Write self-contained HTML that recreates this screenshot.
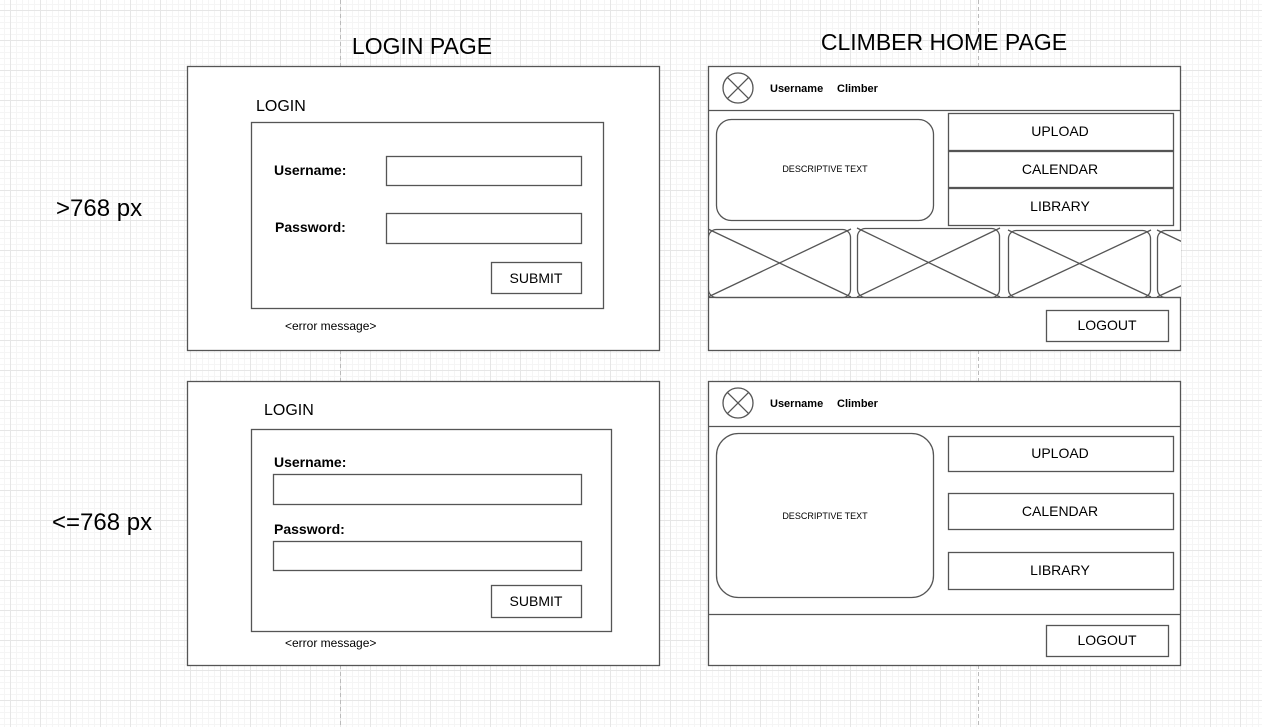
<!DOCTYPE html>
<html><head><style>
html,body{margin:0;padding:0;background:#fff;}
body{width:1262px;height:727px;overflow:hidden;
background-image:linear-gradient(#e6e6e6 1px,transparent 1px),linear-gradient(90deg,#e6e6e6 1px,transparent 1px),linear-gradient(#f5f5f5 1px,transparent 1px),linear-gradient(90deg,#f5f5f5 1px,transparent 1px);
background-size:30px 30px,30px 30px,6px 6px,6px 6px;background-position:10px 10px,10px 10px,10px 10px,10px 10px;}
svg{position:absolute;left:0;top:0;font-family:"Liberation Sans",Arial,sans-serif;}
</style></head><body>
<svg width="1262" height="727" viewBox="0 0 1262 727">
<g stroke="#bbb" stroke-dasharray="4,3" fill="none">
<line x1="340.5" y1="0" x2="340.5" y2="727"/><line x1="978.5" y1="0" x2="978.5" y2="727"/>
</g>
<g fill="#000" font-size="23">
<text x="422" y="54" text-anchor="middle">LOGIN PAGE</text>
<text x="944" y="50" text-anchor="middle">CLIMBER HOME PAGE</text>
</g>
<g fill="#000" font-size="24">
<text x="56" y="216">&gt;768 px</text>
<text x="52" y="530">&lt;=768 px</text>
</g>
<g fill="#fff" stroke="#555" stroke-width="1.3">
<rect x="187.5" y="66.5" width="472" height="284"/>
<rect x="251.5" y="122.5" width="352" height="186"/>
<rect x="386.5" y="156.5" width="195" height="29"/>
<rect x="386.5" y="213.5" width="195" height="30"/>
<rect x="491.5" y="262.5" width="90" height="31"/>
<rect x="187.5" y="381.5" width="472" height="284"/>
<rect x="251.5" y="429.5" width="360" height="202"/>
<rect x="273.5" y="474.5" width="308" height="30"/>
<rect x="273.5" y="541.5" width="308" height="29"/>
<rect x="491.5" y="585.5" width="90" height="32"/>
</g>
<g font-size="16" fill="#000">
<text x="256" y="111">LOGIN</text>
<text x="264" y="415">LOGIN</text>
</g>
<g font-size="14" font-weight="bold" fill="#000">
<text x="274" y="175">Username:</text>
<text x="275" y="232">Password:</text>
<text x="274" y="467">Username:</text>
<text x="274" y="534">Password:</text>
</g>
<g font-size="14" fill="#000" text-anchor="middle">
<text x="536" y="283">SUBMIT</text>
<text x="536" y="606">SUBMIT</text>
</g>
<g font-size="12" fill="#000">
<text x="285" y="330">&lt;error message&gt;</text>
<text x="285" y="647">&lt;error message&gt;</text>
</g>
<defs><clipPath id="c1"><rect x="708" y="66" width="473" height="284"/></clipPath></defs>
<g fill="#fff" stroke="#555" stroke-width="1.3">
<rect x="708.5" y="66.5" width="472" height="284"/>
<line x1="708" y1="110.5" x2="1181" y2="110.5"/>
<circle cx="738" cy="88" r="15"/>
<line x1="727.4" y1="77.4" x2="748.6" y2="98.6"/><line x1="748.6" y1="77.4" x2="727.4" y2="98.6"/>
<rect x="716.5" y="119.5" width="217" height="101" rx="15"/>
<rect x="948.5" y="113.5" width="225" height="37"/>
<rect x="948.5" y="151.5" width="225" height="36"/>
<rect x="948.5" y="188.5" width="225" height="37"/>
<g clip-path="url(#c1)">
<rect x="708.5" y="229.5" width="142" height="68" rx="8"/><line x1="708" y1="229" x2="851" y2="297"/><line x1="851" y1="229" x2="708" y2="297"/>
<rect x="857.5" y="228.5" width="142" height="69" rx="8"/><line x1="857" y1="228" x2="1000" y2="297"/><line x1="1000" y1="228" x2="857" y2="297"/>
<rect x="1008.5" y="230.5" width="142" height="67" rx="8"/><line x1="1008" y1="230" x2="1151" y2="297"/><line x1="1151" y1="230" x2="1008" y2="297"/>
<rect x="1157.5" y="230.5" width="142" height="67" rx="8"/><line x1="1157" y1="230" x2="1300" y2="297"/><line x1="1300" y1="230" x2="1157" y2="297"/>
</g>
<line x1="708" y1="297.5" x2="1181" y2="297.5"/>
<rect x="1046.5" y="310.5" width="122" height="31"/>
<rect x="708.5" y="381.5" width="472" height="284"/>
<line x1="708" y1="426.5" x2="1181" y2="426.5"/>
<circle cx="738" cy="403" r="15"/>
<line x1="727.4" y1="392.4" x2="748.6" y2="413.6"/><line x1="748.6" y1="392.4" x2="727.4" y2="413.6"/>
<rect x="716.5" y="433.5" width="217" height="164" rx="22"/>
<rect x="948.5" y="436.5" width="225" height="35"/>
<rect x="948.5" y="493.5" width="225" height="36"/>
<rect x="948.5" y="552.5" width="225" height="37"/>
<line x1="708" y1="614.5" x2="1181" y2="614.5"/>
<rect x="1046.5" y="625.5" width="122" height="31"/>
</g>
<g font-size="11" font-weight="bold" fill="#000">
<text x="770" y="92">Username</text><text x="837" y="92">Climber</text>
<text x="770" y="407">Username</text><text x="837" y="407">Climber</text>
</g>
<g font-size="9" fill="#000" text-anchor="middle">
<text x="825" y="172">DESCRIPTIVE TEXT</text>
<text x="825" y="519">DESCRIPTIVE TEXT</text>
</g>
<g font-size="14" fill="#000" text-anchor="middle">
<text x="1060" y="136">UPLOAD</text>
<text x="1060" y="174">CALENDAR</text>
<text x="1060" y="211">LIBRARY</text>
<text x="1107" y="330">LOGOUT</text>
<text x="1060" y="458">UPLOAD</text>
<text x="1060" y="516">CALENDAR</text>
<text x="1060" y="575">LIBRARY</text>
<text x="1107" y="645">LOGOUT</text>
</g>
</svg>
</body></html>
